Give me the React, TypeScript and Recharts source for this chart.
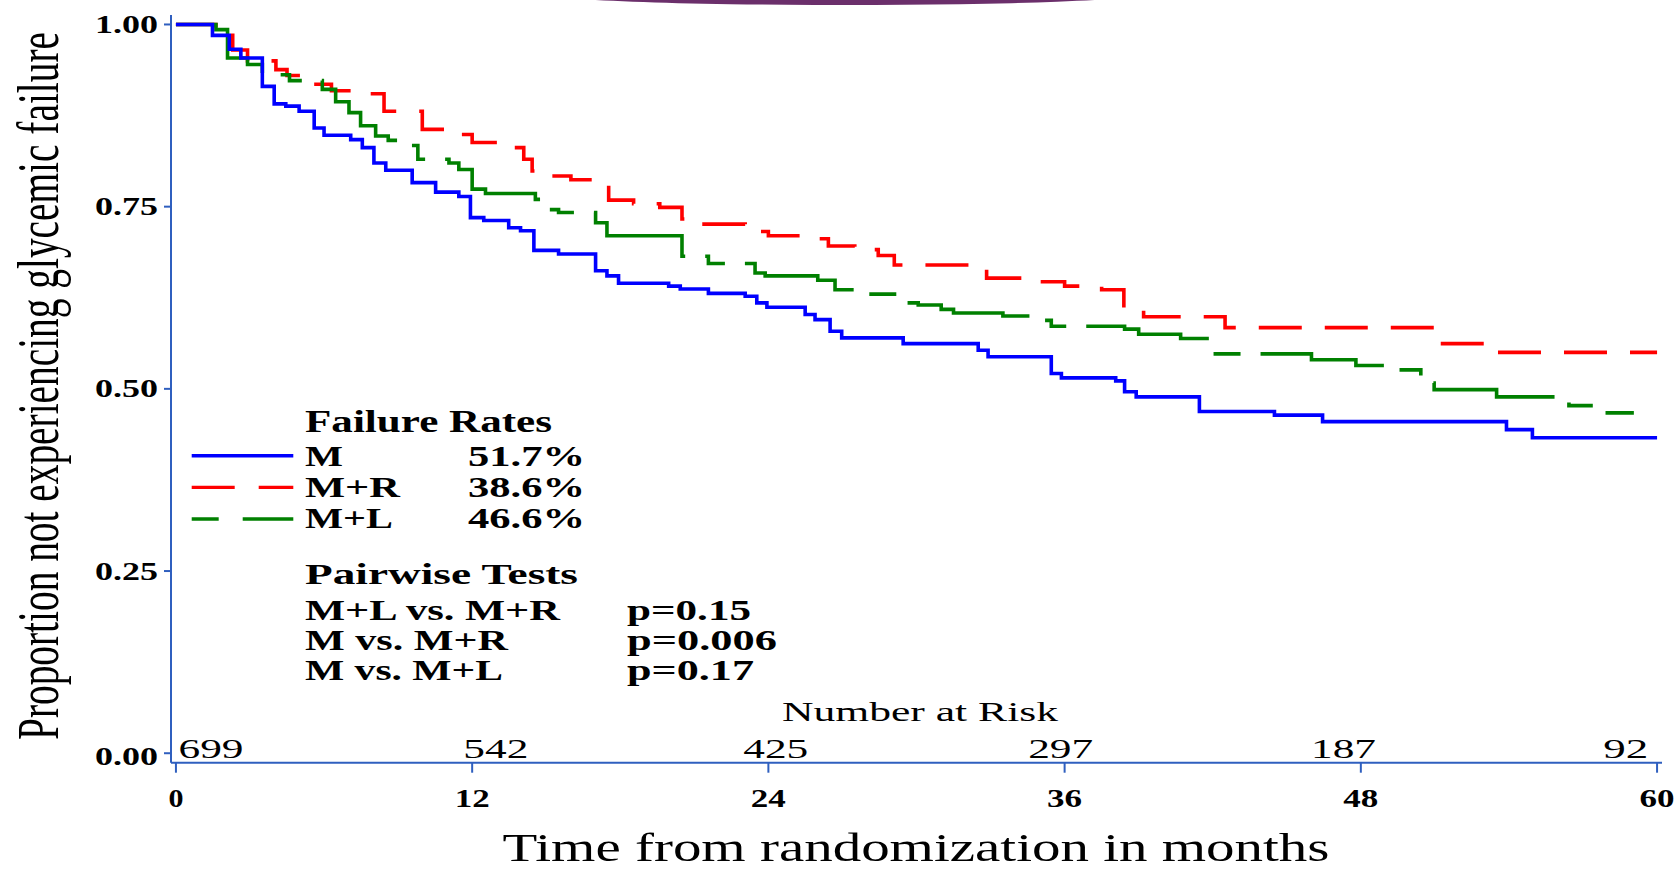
import React from 'react';
import { ComposedChart, Line, XAxis, YAxis, Scatter, Customized } from 'recharts';

// ---- data (Kaplan-Meier step points: month, survival) ----
const monthsM = [0, 1.48, 2.16, 2.63, 3.5, 3.98, 4.45, 4.99, 5.6, 6.0, 7.08, 7.55, 8.02, 8.5, 9.57, 10.52, 11.46, 11.93, 12.47, 13.48, 13.96, 14.5, 15.5, 17.0, 17.46, 17.93, 19.96, 20.43, 21.57, 23.06, 23.53, 23.94, 25.49, 25.89, 26.5, 26.97, 29.46, 32.5, 32.9, 35.46, 35.87, 38.07, 38.43, 38.9, 41.46, 44.5, 46.45, 53.9, 54.95, 60];
const survM = [1, 0.985, 0.966, 0.954, 0.915, 0.891, 0.888, 0.881, 0.858, 0.848, 0.842, 0.831, 0.81, 0.8, 0.783, 0.77, 0.764, 0.735, 0.731, 0.721, 0.717, 0.69, 0.685, 0.662, 0.655, 0.645, 0.641, 0.637, 0.631, 0.627, 0.618, 0.612, 0.602, 0.595, 0.579, 0.57, 0.562, 0.553, 0.544, 0.521, 0.515, 0.511, 0.496, 0.489, 0.469, 0.464, 0.455, 0.444, 0.433, 0.433];

const monthsMR = [0, 1.62, 2.3, 2.9, 4.05, 4.5, 5.6, 6.3, 7.55, 8.43, 9.98, 11.2, 12.0, 13.08, 14.09, 14.43, 14.97, 16.0, 17.53, 18.54, 19.6, 20.5, 21.2, 23.06, 23.5, 24.0, 25.6, 26.43, 27.5, 28.45, 29.1, 32.4, 32.84, 34.4, 36.0, 37.5, 38.4, 39.2, 42.5, 50.97, 53.4, 60];
const survMR = [1, 0.985, 0.965, 0.95, 0.938, 0.93, 0.918, 0.909, 0.905, 0.881, 0.856, 0.849, 0.838, 0.831, 0.815, 0.799, 0.792, 0.787, 0.759, 0.754, 0.749, 0.733, 0.726, 0.723, 0.716, 0.71, 0.706, 0.696, 0.691, 0.683, 0.67, 0.667, 0.652, 0.647, 0.641, 0.636, 0.611, 0.599, 0.584, 0.562, 0.55, 0.55];

const monthsML = [0, 1.62, 2.09, 2.9, 3.5, 4.6, 5.93, 6.47, 7.01, 7.48, 8.09, 8.6, 9.3, 9.8, 11.06, 11.46, 12.0, 12.54, 14.56, 14.97, 15.5, 17.0, 17.46, 20.5, 21.57, 23.46, 23.87, 26.0, 26.7, 27.5, 29.46, 30.07, 31.0, 31.5, 33.5, 34.9, 35.46, 38.43, 39.0, 40.7, 41.94, 46.0, 47.8, 49.4, 50.43, 50.97, 53.5, 56.43, 57.9, 59.06];
const survML = [1, 0.993, 0.954, 0.945, 0.931, 0.923, 0.911, 0.894, 0.879, 0.861, 0.847, 0.841, 0.834, 0.815, 0.81, 0.801, 0.774, 0.768, 0.76, 0.746, 0.742, 0.728, 0.71, 0.682, 0.672, 0.659, 0.655, 0.649, 0.636, 0.63, 0.618, 0.615, 0.609, 0.604, 0.6, 0.594, 0.586, 0.582, 0.575, 0.569, 0.548, 0.54, 0.532, 0.526, 0.508, 0.499, 0.489, 0.477, 0.467, 0.467];

const riskMonths = [1.42, 12.96, 24.3, 35.84, 47.3, 58.73];
const riskCounts = ['699', '542', '425', '297', '187', '92'];

const xTicks = [0, 12, 24, 36, 48, 60];
const yTicks = [0, 0.25, 0.5, 0.75, 1];

const seriesNames = ['M', 'M+R', 'M+L'];
const failureRates = ['51.7%', '38.6%', '46.6%'];
const pairLabels = ['M+L vs. M+R', 'M vs. M+R', 'M vs. M+L'];
const pairP = ['p=0.15', 'p=0.006', 'p=0.17'];

// ---- styles ----
const W = 1676;
const H = 869;
const FONT = "'Liberation Serif', 'Times New Roman', serif";
const AXIS = '#2f5fbf';
const colors = ['#0000ff', '#ff0000', '#008000'];
const dashes = ['', '43 23', '135 20 27 20'];
const legendDashes = ['', '43 24', '27 24 51 24'];
const nameW = [38, 95, 88];
const pairW = [255, 203, 198];
const pW = [124, 150, 127];

const toPts = (ts: number[], ss: number[]) => ts.map((t, i) => ({ t, s: ss[i] }));
const dataM = toPts(monthsM, survM);
const dataMR = toPts(monthsMR, survMR);
const dataML = toPts(monthsML, survML);
const riskData = riskMonths.map((t, i) => ({ t, y: 0, n: riskCounts[i] }));

const T = (p: any) => (
  <text
    x={p.x}
    y={p.y}
    fontFamily={FONT}
    fontSize={p.size}
    fontWeight={p.bold ? 'bold' : 'normal'}
    textAnchor={p.anchor || 'start'}
    textLength={p.w}
    lengthAdjust="spacingAndGlyphs"
    fill="#000"
    transform={p.transform}
  >
    {p.children}
  </text>
);

const YTick = (props: any) => {
  const { x, y, payload } = props;
  const extra = payload.value === 0 ? 3 : 0;
  return (
    <T x={x - 4} y={y + 8.5 + extra} w={63} size={25} bold anchor="end">
      {Number(payload.value).toFixed(2)}
    </T>
  );
};

const XTick = (props: any) => {
  const { x, y, payload } = props;
  const s = String(payload.value);
  return (
    <T x={x} y={y + 32} w={s.length > 1 ? 35 : 15} size={25} bold anchor="middle">
      {s}
    </T>
  );
};

const RiskLabel = (p: any) => (
  <T x={p.cx} y={p.cy + 4.5} w={p.payload.n.length > 2 ? 65 : 45} size={27} anchor="middle">
    {p.payload.n}
  </T>
);

const Overlay = () => (
  <g>
    <ellipse cx={845} cy={-6} rx={300} ry={11} fill="#6b2f6b" />
    {/* axis titles */}
    <T transform="translate(58,386) rotate(-90) scale(1,1.55)" x={0} y={0} w={708} size={38} anchor="middle">
      Proportion not experiencing glycemic failure
    </T>
    <T x={916} y={861} w={827} size={41} anchor="middle">
      Time from randomization in months
    </T>
    <T x={920} y={721} w={276} size={28} anchor="middle">
      Number at Risk
    </T>
    {/* legend */}
    <T x={305} y={431.7} w={247} size={31} bold>
      Failure Rates
    </T>
    {seriesNames.map((n, i) => {
      const base = 466 + i * 30.85;
      return (
        <g key={n}>
          <line
            x1={191.7}
            x2={293.3}
            y1={base - 10.3 + i * 0.8}
            y2={base - 10.3 + i * 0.8}
            stroke={colors[i]}
            strokeWidth={3.4}
            strokeDasharray={legendDashes[i] || undefined}
          />
          <T x={305} y={base} w={nameW[i]} size={29} bold>
            {n}
          </T>
          <T x={585} y={base} w={117} size={29} bold anchor="end">
            {failureRates[i]}
          </T>
        </g>
      );
    })}
    <T x={305} y={584.3} w={273} size={29} bold>
      Pairwise Tests
    </T>
    {pairLabels.map((l, i) => {
      const base = 620 + i * 30.2;
      return (
        <g key={l}>
          <T x={305} y={base} w={pairW[i]} size={29} bold>
            {l}
          </T>
          <T x={627} y={base} w={pW[i]} size={29} bold>
            {pairP[i]}
          </T>
        </g>
      );
    })}
  </g>
);

export default function App() {
  return (
    <div style={{ position: 'absolute', left: 0, top: 0, width: W, height: H, background: '#fff' }}>
      <ComposedChart width={W} height={H} margin={{ top: 15, right: 14, bottom: 0, left: 0 }}>
        <XAxis
          type="number"
          dataKey="t"
          domain={[-0.2, 60.2]}
          ticks={xTicks}
          allowDataOverflow
          height={106.3}
          tickSize={10}
          stroke={AXIS}
          strokeWidth={2}
          tickLine={{ stroke: AXIS, strokeWidth: 2 }}
          tick={<XTick />}
          interval={0}
        />
        <YAxis
          type="number"
          domain={[-0.013, 1.013]}
          ticks={yTicks}
          allowDataOverflow
          width={171}
          tickSize={7}
          stroke={AXIS}
          strokeWidth={2}
          tickLine={{ stroke: AXIS, strokeWidth: 2 }}
          tick={<YTick />}
          interval={0}
        />
        <Line
          data={dataMR}
          dataKey="s"
          type="stepAfter"
          stroke={colors[1]}
          strokeWidth={3.6}
          strokeDasharray={dashes[1]}
          dot={false}
          activeDot={false}
          isAnimationActive={false}
        />
        <Line
          data={dataML}
          dataKey="s"
          type="stepAfter"
          stroke={colors[2]}
          strokeWidth={3.6}
          strokeDasharray={dashes[2]}
          dot={false}
          activeDot={false}
          isAnimationActive={false}
        />
        <Line
          data={dataM}
          dataKey="s"
          type="stepAfter"
          stroke={colors[0]}
          strokeWidth={3.6}
          dot={false}
          activeDot={false}
          isAnimationActive={false}
        />
        <Scatter data={riskData} dataKey="y" shape={RiskLabel} isAnimationActive={false} />
        <Customized component={Overlay} />
      </ComposedChart>
    </div>
  );
}
